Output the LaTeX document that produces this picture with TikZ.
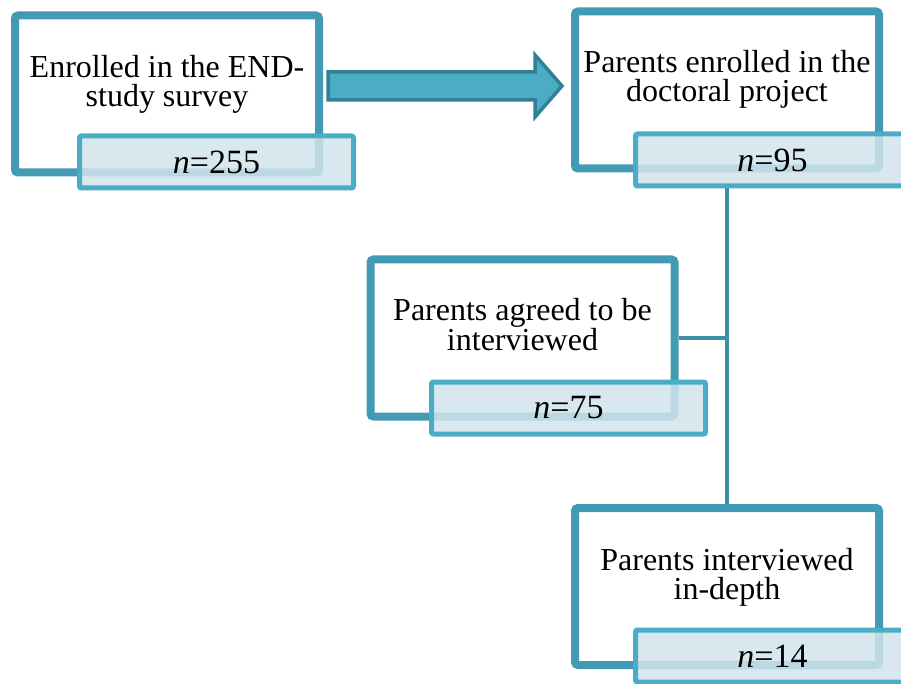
\documentclass[tikz,border=0pt]{standalone}
\usepackage{fontspec}
\setmainfont{Liberation Serif}
\usetikzlibrary{shadows,calc,backgrounds}
\definecolor{boxline}{RGB}{67,154,181}
\definecolor{tagline}{RGB}{75,172,198}
\definecolor{tagfill}{RGB}{210,228,236}
\definecolor{arrowfill}{RGB}{75,172,198}
\definecolor{arrowline}{RGB}{49,128,150}
\definecolor{linkline}{RGB}{62,143,166}
\begin{document}
\begin{tikzpicture}[x=1pt,y=-1pt,
  stagebox/.style={draw=boxline, line width=8pt, fill=white, rounded corners=3pt,
    minimum width=304pt, minimum height=157pt, inner sep=0pt,
    drop shadow={shadow xshift=2pt, shadow yshift=-3pt, opacity=0.25, fill=black!60}},
  stagetext/.style={align=center, anchor=base, inner sep=0pt,
    font=\fontsize{32}{29}\selectfont},
  counttag/.style={draw=tagline, line width=5pt, fill=tagfill, fill opacity=0.85,
    text opacity=1, rounded corners=2pt, minimum width=274pt, minimum height=52pt,
    inner sep=0pt, font=\fontsize{34}{36}\selectfont},
  link/.style={draw=linkline, line width=4pt},
  blockarrow/.style={draw=arrowline, fill=arrowfill, line width=3.5pt, line join=miter}]
\useasboundingbox (0,0) rectangle (901,684);

% stage boxes
\node[stagebox] (b1) at (167,94) {};
\node[stagebox] (b2) at (727,90) {};
\node[stagebox] (b3) at (522.5,338) {};
\node[stagebox] (b4) at (727,586.5) {};

% stage descriptions (anchored on the baseline of the last line)
\node[stagetext] (t1) at (167,106.5) {Enrolled in the END-\\study survey};
\node[stagetext] (t2) at (727,101.5) {Parents enrolled in the\\doctoral project};
\node[stagetext] (t3) at (522.5,350.5) {Parents agreed to be\\interviewed};
\node[stagetext] (t4) at (727,599.5) {Parents interviewed\\in-depth};

% sample sizes
\node[counttag] (n1) at (216.5,162) {\textit{n}=255};
\node[counttag] (n2) at (772.5,160) {\textit{n}=95};
\node[counttag] (n3) at (568.5,408) {\textit{n}=75};
\node[counttag] (n4) at (772.5,656) {\textit{n}=14};

% block arrow between the first two stages
\coordinate (atail) at (328,86);
\coordinate (ahead) at (562,86);
\draw[blockarrow] (atail) ++(0,-14) -- ++(207,0) -- ++(0,-17) -- (ahead)
  -- ++(-27,31) -- ++(0,-17) -- ++(-207,0) -- cycle;

% tree connectors
\begin{scope}[on background layer]
  \draw[link] (b2.south |- n2.south) -- (b4.north);
  \draw[link] (b3.east) -- (b3.east -| b2.south);
\end{scope}
\end{tikzpicture}
\end{document}
